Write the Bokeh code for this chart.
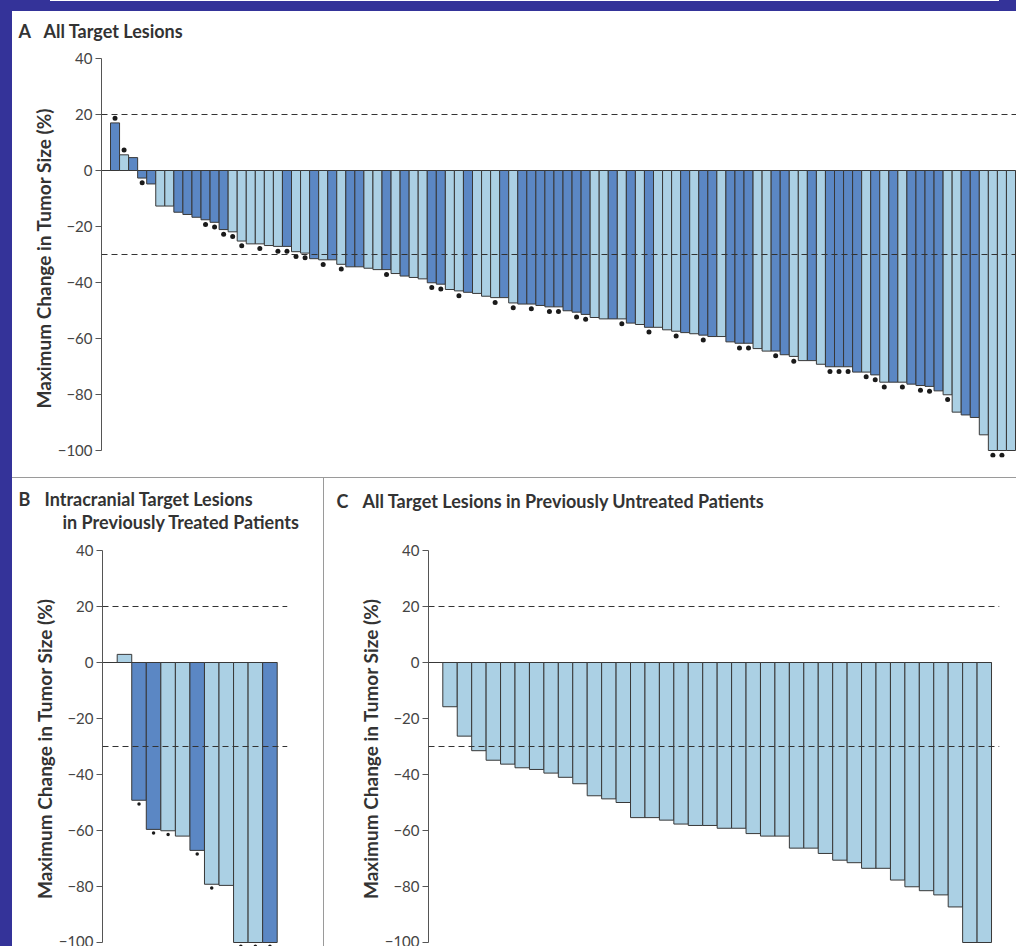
import numpy as np
from bokeh.plotting import figure
from bokeh.models import Range1d, FixedTicker, Span, Label, Spacer, ColumnDataSource
from bokeh.layouts import column, row
from bokeh.embed import file_html
from bokeh.resources import INLINE

# ---------------------------------------------------------------- data
# Panel A: best percentage change in the sum of target lesions, per patient
a_change = [
    17.0, 5.6, 4.6, -2.7, -4.8, -12.7, -12.7, -14.9, -15.7, -16.7,
    -17.6, -18.5, -21.1, -21.9, -25.2, -26.2, -26.2, -26.8, -27.1, -27.1,
    -29.0, -29.5, -31.5, -31.9, -31.9, -33.5, -34.4, -34.4, -34.9, -35.4,
    -35.4, -36.8, -37.7, -38.2, -38.7, -40.1, -40.6, -42.5, -43.0, -43.5,
    -43.9, -44.9, -45.4, -45.4, -47.3, -47.7, -47.7, -48.2, -48.7, -48.7,
    -50.1, -50.6, -51.4, -52.5, -53.0, -53.0, -53.0, -54.5, -55.0, -56.0,
    -56.0, -56.9, -57.4, -57.9, -58.3, -58.8, -59.3, -59.3, -61.2, -61.7,
    -61.7, -63.6, -64.5, -64.5, -65.8, -66.4, -67.9, -67.9, -69.2, -70.1,
    -70.1, -70.1, -72.0, -72.0, -73.0, -75.6, -75.6, -75.6, -76.3, -76.8,
    -77.1, -78.7, -80.1, -86.3, -87.3, -88.2, -94.4, -100.0, -100.0, -100.0,
]
# D = dark-blue bar, L = light-blue bar
a_group = list(
    "DLDDDLLDDD" "DDDLLLLLLD" "LLDLDLDDLL" "DLDLLDDLLD" "LLLDLDDDDD"
    "DDDLLDLDLD" "LLLDLDDLDD" "DLLDDLLDLD" "DDDLDLDLDD" "DDLLDDLLLL"
)
# 1 = patient flagged with a dot
a_marked = [
    1, 1, 0, 1, 0, 0, 0, 0, 0, 0,
    1, 1, 1, 1, 1, 0, 1, 0, 1, 1,
    1, 1, 0, 1, 0, 1, 0, 0, 0, 0,
    1, 0, 0, 0, 0, 1, 1, 0, 1, 0,
    0, 0, 1, 0, 1, 0, 1, 0, 1, 1,
    0, 1, 1, 0, 0, 0, 1, 0, 0, 1,
    0, 0, 1, 0, 0, 1, 0, 0, 0, 1,
    1, 0, 0, 1, 0, 1, 0, 0, 0, 1,
    1, 1, 0, 1, 1, 1, 0, 1, 0, 1,
    1, 0, 1, 0, 0, 0, 0, 1, 1, 0,
]

# Panel B: intracranial target lesions, previously treated patients
b_change = [2.9, -49.2, -59.6, -60.1, -62.0, -67.1, -79.2, -79.6, -100.0, -100.0, -100.0]
b_group = list("LDDLLDLLLLD")
b_marked = [0, 1, 1, 1, 0, 1, 1, 0, 1, 1, 1]

# Panel C: all target lesions, previously untreated patients
c_change = [
    -15.8, -26.3, -31.5, -34.9, -36.3, -37.6, -38.2, -39.5, -41.0, -43.3,
    -47.6, -48.7, -50.0, -55.4, -55.4, -56.3, -57.7, -58.2, -58.2, -59.2,
    -59.2, -61.1, -62.0, -62.0, -66.3, -66.3, -68.2, -70.6, -71.5, -73.5,
    -73.5, -77.7, -80.1, -81.5, -83.0, -87.3, -100.0, -100.0,
]
c_group = ["L"] * len(c_change)
c_marked = [0] * len(c_change)

thresholds = [20, -30]
y_ticks = [40, 20, 0, -20, -40, -60, -80, -100]
y_axis_title = "Maximum Change in Tumor Size (%)"

# ---------------------------------------------------------------- style
DARK = "#5b87c4"
LIGHT = "#abd0e4"
EDGE = "#383838"
NAVY = "#343399"
TEXT = "#333333"
FONT = "Lato"
PX_PER_UNIT = 2.8  # vertical pixels per percentage point


def panel(values, groups, marked, width, height, left, right, top, bottom,
          bar_px, first_gap, dot_size, dot_gap):
    n = len(values)
    frame_w = width - left - right
    frame_h = height - top - bottom
    x0 = 0.5 - first_gap / bar_px
    x1 = x0 + frame_w / bar_px
    y1 = 40
    y0 = y1 - frame_h / PX_PER_UNIT

    p = figure(width=width, height=height, output_backend="svg", toolbar_location=None,
               x_range=Range1d(x0, x1), y_range=Range1d(y0, y1),
               x_axis_location=None, min_border_left=left, min_border_right=right,
               min_border_top=top, min_border_bottom=bottom)
    p.grid.visible = False
    p.outline_line_color = None
    p.background_fill_color = "white"
    p.border_fill_color = "white"

    vals = np.array(values, dtype=float)
    src = ColumnDataSource(dict(
        x=np.arange(1, n + 1),
        top=vals,
        color=[DARK if g == "D" else LIGHT for g in groups],
    ))
    p.segment(x0=[x0], y0=[0], x1=[n + 0.5], y1=[0], line_color=EDGE, line_width=1)
    p.vbar(x="x", top="top", bottom=0, width=1, source=src,
           fill_color="color", line_color=EDGE, line_width=1)

    idx = [i for i, m in enumerate(marked) if m]
    if idx:
        dv = vals[idx]
        p.scatter(x=np.array(idx) + 1, y=dv + np.sign(dv) * dot_gap, size=dot_size,
                  marker="circle", fill_color="#1a1a1a", line_color=None)

    for t in thresholds:
        p.add_layout(Span(location=t, dimension="width", line_color="#333333",
                          line_width=1.2, line_dash="6 4"))

    ax = p.yaxis[0]
    ax.ticker = FixedTicker(ticks=y_ticks)
    ax.major_label_overrides = {t: ("\u2212" + str(-t)) if t < 0 else str(t) for t in y_ticks}
    ax.bounds = (-100, 40)
    ax.axis_line_color = "#555555"
    ax.axis_line_width = 1
    ax.major_tick_line_color = "#555555"
    ax.major_tick_out = 6
    ax.major_tick_in = 0
    ax.minor_tick_line_color = None
    ax.major_label_text_font = FONT
    ax.major_label_text_font_size = "15px"
    ax.major_label_text_color = "#444444"
    ax.major_label_standoff = 3
    ax.axis_label = y_axis_title
    ax.axis_label_text_font = FONT
    ax.axis_label_text_font_style = "bold"
    ax.axis_label_text_font_size = "19px"
    ax.axis_label_text_color = TEXT
    ax.axis_label_standoff = 0
    return p


def heading(width, height, letter, letter_x, lines):
    """Strip above a panel holding its letter and title; data units are pixels from top-left."""
    h = figure(width=width, height=height, output_backend="svg", toolbar_location=None,
               x_range=Range1d(0, width), y_range=Range1d(height, 0),
               x_axis_location=None, y_axis_location=None,
               min_border_left=0, min_border_right=0, min_border_top=0, min_border_bottom=0)
    h.grid.visible = False
    h.outline_line_color = None
    h.background_fill_color = "white"
    h.border_fill_color = "white"
    kw = dict(text_font=FONT, text_font_style="bold", text_font_size="18px",
              text_color=TEXT, text_baseline="middle", text_align="left")
    h.add_layout(Label(x=letter_x, y=lines[0][2], text=letter, **kw))
    for x, text, y in lines:
        h.add_layout(Label(x=x, y=y, text=text, **kw))
    # wrapped in its own row so its frame is laid out independently of the panel below
    return row(h)


hA = heading(1004, 37, "A", 6, [(31, "All Target Lesions", 19)])
pA = panel(a_change, a_group, a_marked, width=1004, height=429,
           left=89, right=0, top=10, bottom=20, bar_px=9.05, first_gap=9.0,
           dot_size=5, dot_gap=1.7)

hB = heading(311, 62, "B", 6, [(32, "Intracranial Target Lesions", 20.5),
                               (50, "in Previously Treated Patients", 43)])
pB = panel(b_change, b_group, b_marked, width=311, height=406,
           left=90, right=36, top=10, bottom=0, bar_px=14.545, first_gap=14.7,
           dot_size=3.5, dot_gap=1.3)

hC = heading(692, 62, "C", 12, [(38, "All Target Lesions in Previously Untreated Patients", 22)])
pC = panel(c_change, c_group, c_marked, width=692, height=406,
           left=104, right=17, top=10, bottom=0, bar_px=14.44, first_gap=14.3,
           dot_size=3.5, dot_gap=1.3)

# ---------------------------------------------------------------- page layout
def block(w, h, color):
    return Spacer(width=w, height=h, styles={"background-color": color})

top_strip = row(block(50, 11, NAVY),
                column(block(949, 1, "white"), block(949, 10, NAVY)),
                block(17, 11, NAVY))
content = column(hA, pA, block(1004, 1, "#9a9a9a"),
                 row(column(hB, pB), block(1, 468, "#9a9a9a"), column(hC, pC)))
page = column(top_strip, row(block(12, 935, NAVY), content))

open("out.html", "w").write(file_html(page, INLINE))
